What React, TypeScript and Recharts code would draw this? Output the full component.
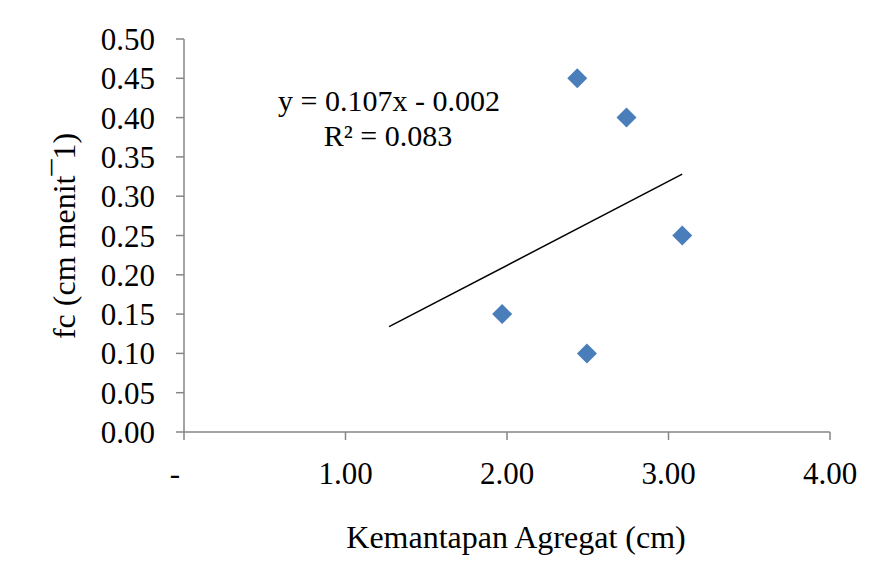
import React from 'react';
import { ScatterChart, Scatter, XAxis, YAxis, Customized } from 'recharts';

const pointX = [1.97, 2.435, 2.495, 2.74, 3.085];
const pointY = [0.15, 0.45, 0.10, 0.40, 0.25];
const trendX = [1.27, 3.085];
const trendY = [0.134, 0.328];
const xTicks = [0, 1, 2, 3, 4];
const yTicks = [0, 0.05, 0.1, 0.15, 0.2, 0.25, 0.3, 0.35, 0.4, 0.45, 0.5];
const equationText = 'y = 0.107x - 0.002';
const r2Text = 'R² = 0.083';
const xLabel = 'Kemantapan Agregat (cm)';
const yLabel = 'fc (cm menit¯1)';

const points = pointX.map((x, i) => ({ x, y: pointY[i] }));
const trend = trendX.map((x, i) => ({ x, y: trendY[i] }));

const FONT = "'Liberation Serif', 'Times New Roman', 'DejaVu Serif', serif";
const AXIS = '#868686';
const FS = 31;
const textStyle = { fontFamily: FONT, fontSize: FS, fill: '#000' };
const labelStyle = { fontFamily: FONT, fontSize: 32, fill: '#000' };
const eqStyle = { fontFamily: FONT, fontSize: 30, fill: '#000' };

const Diamond = (props: any) => {
  const { cx, cy } = props;
  const r = 10;
  return (
    <polygon
      points={`${cx},${cy - r} ${cx + r},${cy} ${cx},${cy + r} ${cx - r},${cy}`}
      fill="#4a7ebb"
    />
  );
};

const NoShape = () => <g />;

const XTick = (props: any) => {
  const { x, y, payload } = props;
  const v = payload.value;
  const label = v === 0 ? '-' : Number(v).toFixed(2);
  return (
    <text x={x + (v === 0 ? -9 : 0)} y={y} dy="0.71em" textAnchor="middle" style={textStyle}>
      {label}
    </text>
  );
};

const YTick = (props: any) => {
  const { x, y, payload } = props;
  return (
    <text x={x} y={y} dy="0.355em" textAnchor="end" style={textStyle}>
      {Number(payload.value).toFixed(2)}
    </text>
  );
};

const Texts = () => (
  <g>
    <text x={389} y={111} textAnchor="middle" style={eqStyle}>{equationText}</text>
    <text x={388} y={146} textAnchor="middle" style={eqStyle}>{r2Text}</text>
    <text x={516} y={548} textAnchor="middle" style={labelStyle}>{xLabel}</text>
    <text x={75} y={236} textAnchor="middle" style={labelStyle} transform="rotate(-90 75 236)">
      {yLabel}
    </text>
  </g>
);

export default function App() {
  return (
    <div style={{ position: 'absolute', left: 0, top: 0, width: 883, height: 579, background: '#fff', fontFamily: FONT }}>
      <ScatterChart width={883} height={579} margin={{ top: 39, right: 53, left: 0, bottom: 0 }}>
        <XAxis
          type="number"
          dataKey="x"
          domain={[0, 4]}
          ticks={xTicks}
          interval={0}
          allowDataOverflow
          height={147}
          stroke={AXIS}
          strokeWidth={1.5}
          tickSize={8}
          tickMargin={22}
          tick={<XTick />}
          tickLine={{ stroke: AXIS, strokeWidth: 1.5 }}
        />
        <YAxis
          type="number"
          dataKey="y"
          domain={[0, 0.5]}
          ticks={yTicks}
          interval={0}
          allowDataOverflow
          width={184}
          stroke={AXIS}
          strokeWidth={1.5}
          tickSize={8}
          tickMargin={21}
          tick={<YTick />}
          tickLine={{ stroke: AXIS, strokeWidth: 1.5 }}
        />
        <Scatter
          data={trend}
          line={{ stroke: '#000', strokeWidth: 1.5 }}
          lineType="joint"
          shape={NoShape}
          isAnimationActive={false}
        />
        <Scatter data={points} shape={Diamond} isAnimationActive={false} />
        <Customized component={Texts} />
      </ScatterChart>
    </div>
  );
}
